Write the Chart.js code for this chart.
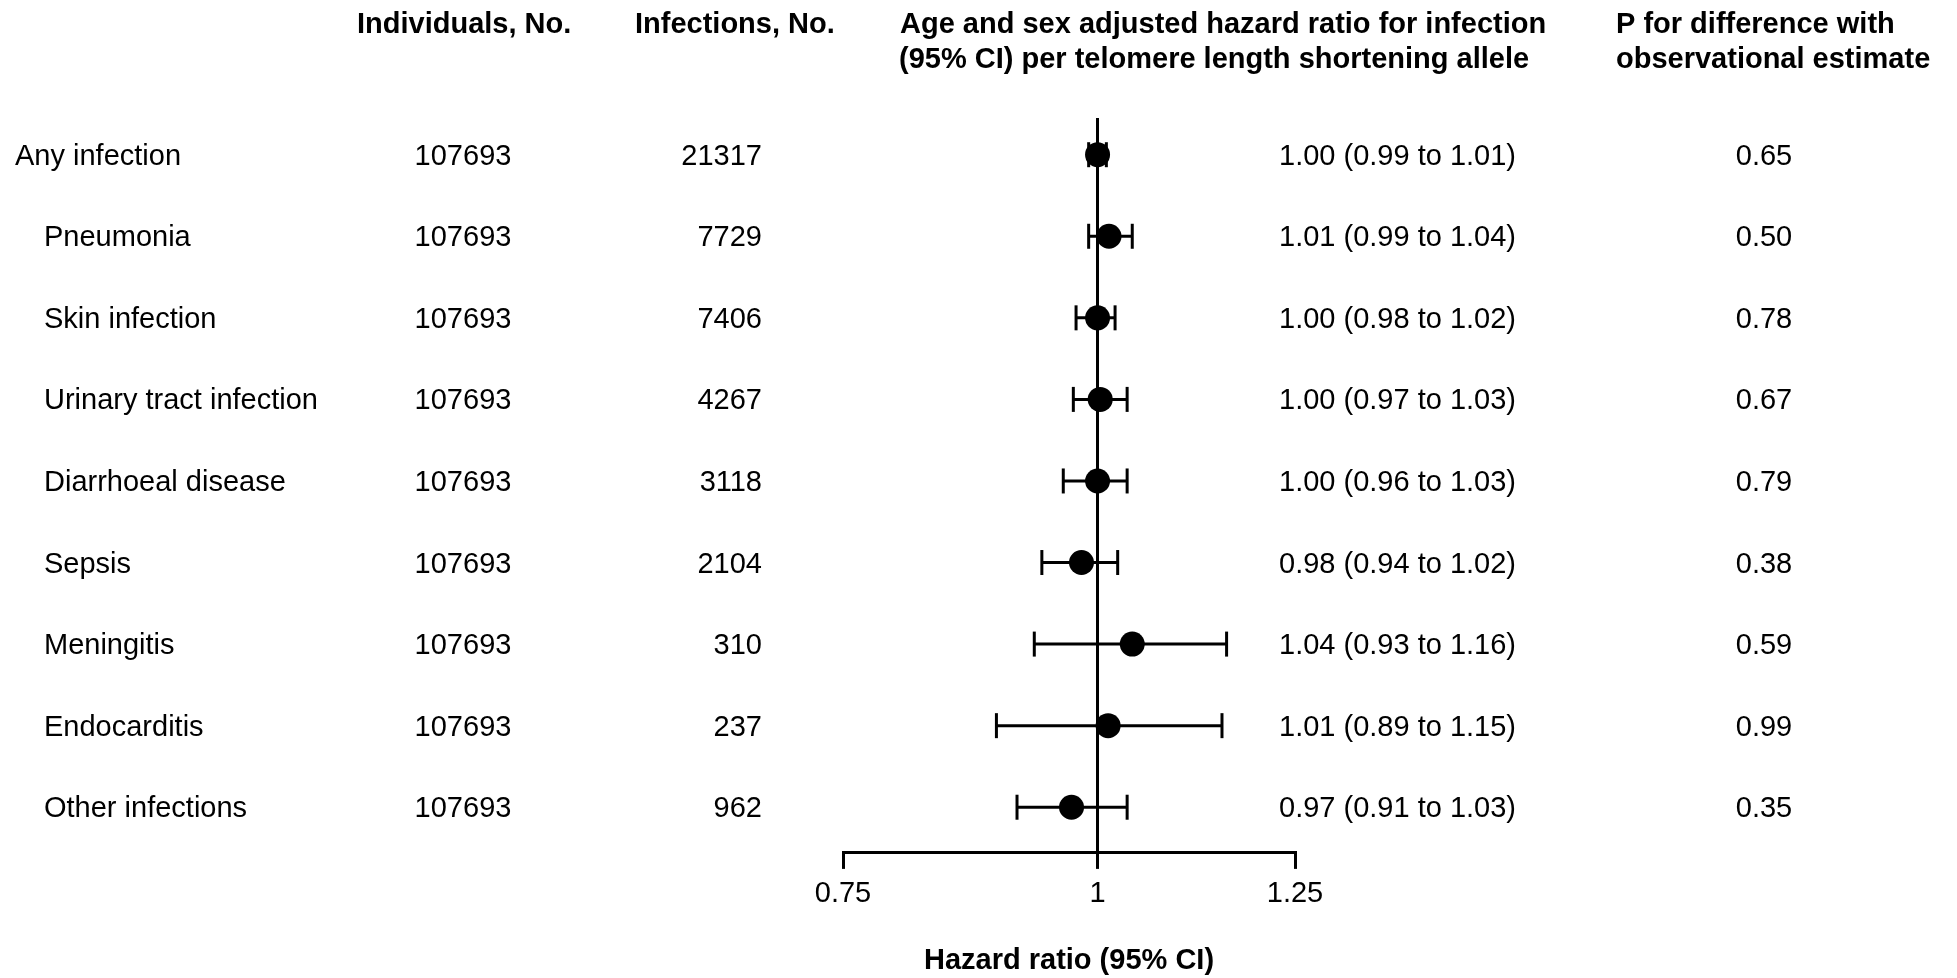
<!DOCTYPE html>
<html lang="en">
<head>
    <meta charset="UTF-8">
    <title>Telomere length and infection risk</title>
    <script src="https://cdn.jsdelivr.net/npm/chart.js"></script>
    <style>
        body { margin: 0; background: #fff; }
        #wrap { width: 1957px; height: 978px; }
    </style>
</head>
<body>
    <div id="wrap"><canvas id="forestChart"></canvas></div>

    <script>
        // Data
        const outcomes = ['Any infection', 'Pneumonia', 'Skin infection', 'Urinary tract infection',
            'Diarrhoeal disease', 'Sepsis', 'Meningitis', 'Endocarditis', 'Other infections'];
        const individuals = [107693, 107693, 107693, 107693, 107693, 107693, 107693, 107693, 107693];
        const infections = [21317, 7729, 7406, 4267, 3118, 2104, 310, 237, 962];
        const hr = [1.00, 1.013, 1.00, 1.003, 1.00, 0.982, 1.04, 1.012, 0.971];
        const ciLow = [0.99, 0.99, 0.976, 0.973, 0.962, 0.939, 0.931, 0.892, 0.913];
        const ciHigh = [1.01, 1.04, 1.02, 1.034, 1.034, 1.023, 1.157, 1.151, 1.034];
        const hrText = ['1.00 (0.99 to 1.01)', '1.01 (0.99 to 1.04)', '1.00 (0.98 to 1.02)', '1.00 (0.97 to 1.03)',
            '1.00 (0.96 to 1.03)', '0.98 (0.94 to 1.02)', '1.04 (0.93 to 1.16)', '1.01 (0.89 to 1.15)', '0.97 (0.91 to 1.03)'];
        const pValues = ['0.65', '0.50', '0.78', '0.67', '0.79', '0.38', '0.59', '0.99', '0.35'];
        const tickVals = [0.75, 1, 1.25];
        const tickLabels = ['0.75', '1', '1.25'];

        const FONT = 'Arial, "Liberation Sans", Helvetica, sans-serif';

        // table columns drawn around the plot
        const tablePlugin = {
            id: 'tableText',
            afterDraw(chart) {
                const ctx = chart.ctx;
                const y = chart.scales.y;
                ctx.save();
                ctx.fillStyle = '#000';
                ctx.textBaseline = 'alphabetic';

                // headers
                ctx.font = 'bold 29px ' + FONT;
                ctx.textAlign = 'left';
                ctx.fillText('Individuals, No.', 357, 33);
                ctx.fillText('Infections, No.', 635, 33);
                ctx.fillText('Age and sex adjusted hazard ratio for infection', 900, 33);
                ctx.fillText('(95% CI) per telomere length shortening allele', 899, 68);
                ctx.fillText('P for difference with', 1616, 33);
                ctx.fillText('observational estimate', 1616, 68);

                ctx.font = '29px ' + FONT;
                outcomes.forEach((name, i) => {
                    const py = y.getPixelForValue(i) + 10;
                    ctx.textAlign = 'left';
                    ctx.fillText(name, i === 0 ? 15 : 44, py);
                    ctx.textAlign = 'center';
                    ctx.fillText(String(individuals[i]), 463, py);
                    ctx.textAlign = 'right';
                    ctx.fillText(String(infections[i]), 762, py);
                    ctx.textAlign = 'left';
                    ctx.fillText(hrText[i], 1279, py);
                    ctx.textAlign = 'center';
                    ctx.fillText(pValues[i], 1764, py);
                });
                ctx.restore();
            }
        };

        const ciSets = outcomes.map((name, i) => ({
            label: name + ' CI',
            data: [{ x: ciLow[i], y: i }, { x: ciHigh[i], y: i }],
            showLine: true,
            borderColor: '#000',
            borderWidth: 3,
            pointStyle: 'line',
            pointRotation: 90,
            pointRadius: 12.5,
            pointBorderColor: '#000',
            pointBorderWidth: 3,
            pointBackgroundColor: '#000'
        }));

        const pointSet = {
            label: 'Hazard ratio',
            data: hr.map((v, i) => ({ x: v, y: i })),
            pointStyle: 'circle',
            pointRadius: 12.5,
            pointBackgroundColor: '#000',
            pointBorderWidth: 0
        };

        new Chart(document.getElementById('forestChart'), {
            type: 'scatter',
            data: { datasets: [pointSet, ...ciSets] },
            options: {
                responsive: true,
                maintainAspectRatio: false,
                animation: false,
                layout: { padding: { left: 843, right: 662, top: 118, bottom: 0 } },
                plugins: {
                    legend: { display: false },
                    tooltip: { enabled: false }
                },
                scales: {
                    x: {
                        type: 'logarithmic',
                        min: 0.75,
                        max: 1.25,
                        afterBuildTicks: (axis) => {
                            axis.ticks = tickVals.map(v => ({ value: v }));
                        },
                        ticks: {
                            color: '#000',
                            font: { family: FONT, size: 29 },
                            padding: 8,
                            maxRotation: 0,
                            callback: (value, index) => tickLabels[index]
                        },
                        grid: {
                            drawOnChartArea: true,
                            color: (c) => (c.tick && c.tick.value === 1) ? '#000' : 'rgba(0,0,0,0)',
                            lineWidth: 3,
                            tickColor: '#000',
                            tickWidth: 3,
                            tickLength: 16
                        },
                        border: { display: true, color: '#000', width: 3 },
                        title: {
                            display: true,
                            text: 'Hazard ratio (95% CI)',
                            color: '#000',
                            font: { family: FONT, size: 29, weight: 'bold' },
                            padding: { top: 23.5, bottom: 0 }
                        }
                    },
                    y: {
                        display: false,
                        reverse: true,
                        min: -0.45,
                        max: 8.56
                    }
                }
            },
            plugins: [tablePlugin]
        });
    </script>
</body>
</html>
